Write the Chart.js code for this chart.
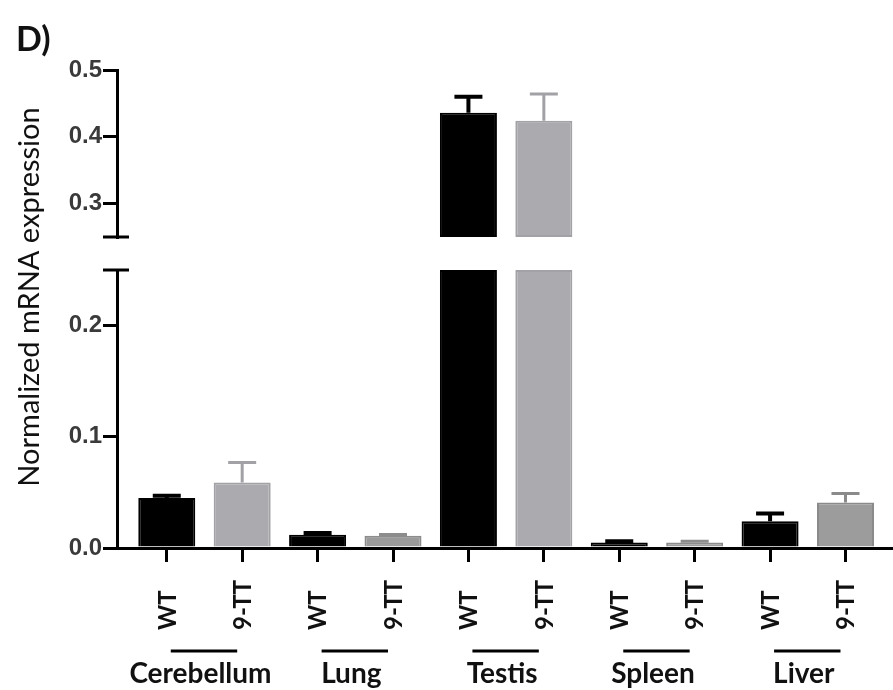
<!DOCTYPE html>
<html>
<head>
<meta charset="utf-8">
<script src="https://cdn.jsdelivr.net/npm/chart.js@4.4.1/dist/chart.umd.min.js"></script>
<style>
  body { margin: 0; background: #fff; }
  #wrap { width: 893px; height: 690px; position: relative; }
</style>
</head>
<body>
<div id="wrap"><canvas id="expressionChart"></canvas></div>
<script>
// values
const tissues = ['Cerebellum', 'Lung', 'Testis', 'Spleen', 'Liver'];
const genotypes = ['WT', '9-TT'];
const wtMean = [0.045, 0.012, 0.436, 0.005, 0.024];
const wtErr  = [0.002, 0.0015, 0.024, 0.001, 0.007];
const ttMean = [0.059, 0.011, 0.424, 0.005, 0.041];
const ttErr  = [0.018, 0.0012, 0.040, 0.001, 0.008];
const lowTicks = [0.0, 0.1, 0.2];
const highTicks = [0.3, 0.4, 0.5];
const breakAt = 0.25;
const axisTop = 0.5;
const yTitle = 'Normalized mRNA expression';
const panelLabel = 'D)';

// styles
const wtColor = '#000000';
const ttFill = ['#abaaae', '#9a9a9a', '#abaaae', '#9a9a9a', '#9c9c9c'];
const ttEdge = ['#a2a1a5', '#8c8c8c', '#a2a1a5', '#8c8c8c', '#8a8a8a'];
const labelFont = 'Lato, "Open Sans", sans-serif';

// one entry per bar, x position = running index
const bars = [];
tissues.forEach((t, i) => {
    bars.push({x: i * 2, g: 0, mean: wtMean[i], err: wtErr[i], fill: wtColor, edge: wtColor});
    bars.push({x: i * 2 + 1, g: 1, mean: ttMean[i], err: ttErr[i], fill: ttFill[i], edge: ttEdge[i]});
});
const highBars = bars.filter(b => b.mean > breakAt);

const AXIS_W = 66;

const brokenAxisPlugin = {
    id: 'broken_axis',

    afterDatasetsDraw: function(chart) {
        const ctx = chart.ctx;
        const low = chart.scales.yLow;
        const high = chart.scales.yHigh;
        const meta = chart.getDatasetMeta(0);

        // error bars (upper only)
        bars.forEach((b, k) => {
            const el = meta.data[k];
            const scale = b.mean > breakAt ? high : low;
            const y0 = scale.getPixelForValue(b.mean);
            const y1 = scale.getPixelForValue(b.mean + b.err);
            ctx.save();
            ctx.strokeStyle = b.g === 0 ? '#000' : b.edge;
            ctx.lineWidth = b.g === 0 ? 4 : 3;
            ctx.beginPath();
            ctx.moveTo(el.x, y0);
            ctx.lineTo(el.x, y1);
            ctx.moveTo(el.x - 14, y1);
            ctx.lineTo(el.x + 14, y1);
            ctx.stroke();
            ctx.restore();
        });

        // caps at the axis break
        const ax = chart.chartArea.left - 1;
        ctx.save();
        ctx.strokeStyle = '#000';
        ctx.lineWidth = 3;
        ctx.beginPath();
        ctx.moveTo(ax - 13, high.bottom);
        ctx.lineTo(ax + 13, high.bottom);
        ctx.moveTo(ax - 13, low.top);
        ctx.lineTo(ax + 13, low.top);
        ctx.stroke();
        ctx.restore();
    },

    afterDraw: function(chart) {
        const ctx = chart.ctx;
        const xs = chart.scales.x;
        const low = chart.scales.yLow;
        const high = chart.scales.yHigh;
        const base = xs.top;

        ctx.save();
        ctx.fillStyle = '#111';

        // rotated genotype labels, all starting at the same baseline
        ctx.font = 'bold 24px ' + labelFont;
        ctx.textAlign = 'left';
        ctx.textBaseline = 'middle';
        bars.forEach(b => {
            const px = xs.getPixelForValue(b.x);
            ctx.save();
            ctx.translate(px + 1, base + 82);
            ctx.rotate(-Math.PI / 2);
            ctx.fillText(genotypes[b.g], 0, 0);
            ctx.restore();
        });

        // tissue groups: underline + name
        ctx.font = 'bold 28px ' + labelFont;
        ctx.textAlign = 'center';
        ctx.strokeStyle = '#000';
        ctx.lineWidth = 3;
        tissues.forEach((t, i) => {
            const p0 = xs.getPixelForValue(i * 2);
            const p1 = xs.getPixelForValue(i * 2 + 1);
            ctx.beginPath();
            ctx.moveTo(p0 + 4, base + 103);
            ctx.lineTo(p1 - 5, base + 103);
            ctx.stroke();
            ctx.fillText(t, (p0 + p1) / 2 - 4, base + 126);
        });

        // y axis title
        ctx.font = '29px ' + labelFont;
        ctx.save();
        ctx.translate(30, (high.top + low.bottom) / 2 - 12);
        ctx.rotate(-Math.PI / 2);
        ctx.fillText(yTitle, 0, 0);
        ctx.restore();

        // panel letter
        ctx.font = 'bold 34px ' + labelFont;
        ctx.textAlign = 'left';
        ctx.textBaseline = 'alphabetic';
        ctx.fillText(panelLabel, 16, 51);
        ctx.restore();
    }
};

function yAxis(min, max, weight, ticks) {
    return {
        type: 'linear',
        position: 'left',
        stack: 'v',
        stackWeight: weight,
        min: min,
        max: max,
        afterBuildTicks: s => { s.ticks = ticks.map(v => ({value: v})); },
        afterFit: s => { s.width = AXIS_W; },
        ticks: {
            padding: 1,
            color: '#3a3a3a',
            font: {family: '"Liberation Sans", Arial, sans-serif', size: 24, weight: 'bold'},
            callback: v => v.toFixed(1)
        },
        grid: {drawOnChartArea: false, tickLength: 14, lineWidth: 3, color: '#000'},
        border: {color: '#000', width: 3}
    };
}

function initChart() {
    Chart.register(brokenAxisPlugin);
    const ctx = document.getElementById('expressionChart');
    return new Chart(ctx, {
        type: 'bar',
        data: {
            datasets: [
                {
                    data: bars.map(b => ({x: b.x, y: Math.min(b.mean, breakAt)})),
                    yAxisID: 'yLow',
                    backgroundColor: bars.map(b => b.fill),
                    borderColor: bars.map(b => b.edge),
                    borderWidth: 2,
                    grouped: false
                },
                {
                    data: highBars.map(b => ({x: b.x, y: [breakAt, b.mean]})),
                    yAxisID: 'yHigh',
                    backgroundColor: highBars.map(b => b.fill),
                    borderColor: highBars.map(b => b.edge),
                    borderWidth: 2,
                    borderSkipped: false,
                    grouped: false
                }
            ]
        },
        options: {
            responsive: true,
            maintainAspectRatio: false,
            animation: false,
            layout: {padding: {left: 117 - AXIS_W, top: 70, right: 0, bottom: 0}},
            categoryPercentage: 0.84,
            barPercentage: 0.9,
            scales: {
                x: {
                    type: 'linear',
                    position: 'bottom',
                    offset: false,
                    min: -0.66,
                    max: 9.63,
                    afterFit: s => { s.height = 142; },
                    ticks: {display: false, stepSize: 1, includeBounds: false},
                    grid: {offset: false, drawOnChartArea: false, tickLength: 14, lineWidth: 3, color: '#000'},
                    border: {color: '#000', width: 3}
                },
                yLow: yAxis(0, breakAt, 278, lowTicks),
                yGap: {
                    type: 'linear',
                    position: 'left',
                    stack: 'v',
                    stackWeight: 33,
                    min: 0,
                    max: 1,
                    afterFit: s => { s.width = AXIS_W; },
                    ticks: {display: false},
                    grid: {display: false},
                    border: {display: false}
                },
                yHigh: yAxis(breakAt, axisTop, 167, highTicks)
            },
            plugins: {
                legend: {display: false},
                tooltip: {enabled: false}
            }
        }
    });
}

var g_chart = initChart();
</script>
</body>
</html>
